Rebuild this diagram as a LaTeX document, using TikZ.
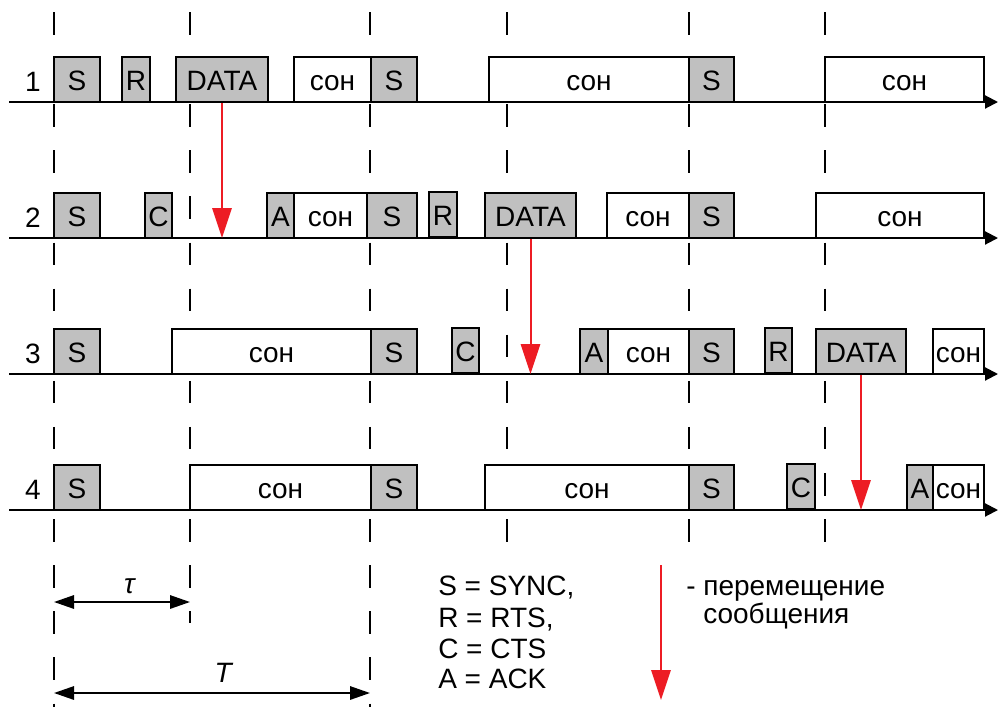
\documentclass[tikz,border=0pt]{standalone}
\usepackage{fontspec}
\setmainfont{Liberation Sans}
\usetikzlibrary{arrows.meta}
\definecolor{boxgray}{HTML}{C0C0C0}
\definecolor{msgred}{HTML}{ED1C24}
\newcommand{\blk}[6]{\node[#1, minimum width={(#4-#3)*0.75pt}] (#2) at ({(#3+#4)/2},{#5}) {#6};}
\begin{document}
\begin{tikzpicture}[x=0.75pt,y=-0.75pt,
  font=\fontsize{21}{25}\selectfont,
  basebox/.style={draw=black, line width=1.5pt, inner sep=0pt, minimum height=33.75pt,
    text height=16.5pt, text depth=0pt, anchor=center},
  gbox/.style={basebox, fill=boxgray},
  wbox/.style={basebox, fill=white},
  guide/.style={line width=1.5pt, dash pattern=on 16.875pt off 17.7pt},
  axisline/.style={line width=1.5pt, -{Triangle[length=9.75pt,width=9.75pt]}},
  msg/.style={draw=msgred, line width=1.5pt, -{Triangle[length=22.5pt,width=14.5pt]}},
  dim/.style={line width=1.5pt, {Triangle[length=15pt,width=10pt]}-{Triangle[length=15pt,width=10pt]}},
  lbl/.style={inner sep=0pt, anchor=base}
]
\useasboundingbox (0,0) rectangle (998,707);
% guides
\foreach \gx/\gy [count=\i] in {54/707,190/623,370/707,507/542,689/542,825/542}{
  \coordinate (gt\i) at (\gx,12);
  \coordinate (gb\i) at (\gx,\gy);
  \draw[guide] (gt\i) -- (gb\i);
}
% axes
\foreach \ay [count=\i] in {102,238,374,510}{
  \coordinate (ax\i) at (9,\ay);
  \coordinate (ae\i) at (998,\ay);
  \draw[axisline] (ax\i) -- (ae\i);
}
% row labels
\node[lbl] (n1) at (33,91) {1};
\node[lbl] (n2) at (33,227) {2};
\node[lbl] (n3) at (33,363) {3};
\node[lbl] (n4) at (33,499) {4};
% row 1
\blk{gbox}{r1a}{54}{100}{79.5}{S}
\blk{gbox}{r1b}{122}{150}{79.5}{R}
\blk{gbox}{d1}{176}{268}{79.5}{DATA}
\blk{wbox}{r1c}{294}{371}{79.5}{сон}
\blk{gbox}{r1d}{371}{417}{79.5}{S}
\blk{wbox}{r1e}{489}{689}{79.5}{сон}
\blk{gbox}{r1f}{689}{734}{79.5}{S}
\blk{wbox}{r1g}{825}{984}{79.5}{сон}
% row 2
\blk{gbox}{r2a}{54}{100}{215.5}{S}
\blk{gbox}{r2b}{145}{172}{215.5}{C}
\blk{gbox}{r2c}{267}{294}{215.5}{A}
\blk{wbox}{r2d}{294}{367}{215.5}{сон}
\blk{gbox}{r2e}{367}{417}{215.5}{S}
\blk{gbox}{r2f}{429}{457}{214.5}{R}
\blk{gbox}{d2}{485}{576}{215.5}{DATA}
\blk{wbox}{r2g}{607}{689}{215.5}{сон}
\blk{gbox}{r2h}{689}{734}{215.5}{S}
\blk{wbox}{r2i}{816}{984}{215.5}{сон}
% row 3
\blk{gbox}{r3a}{54}{100}{351.5}{S}
\blk{wbox}{r3b}{172}{371}{351.5}{сон}
\blk{gbox}{r3c}{371}{417}{351.5}{S}
\blk{gbox}{r3d}{452}{479}{350.5}{C}
\blk{gbox}{r3e}{580}{608}{351.5}{A}
\blk{wbox}{r3f}{608}{689}{351.5}{сон}
\blk{gbox}{r3g}{689}{734}{351.5}{S}
\blk{gbox}{r3h}{765}{792}{350.5}{R}
\blk{gbox}{d3}{816}{906}{351.5}{DATA}
\blk{wbox}{r3i}{933}{984}{351.5}{сон}
% row 4
\blk{gbox}{r4a}{54}{100}{487.5}{S}
\blk{wbox}{r4b}{190}{371}{487.5}{сон}
\blk{gbox}{r4c}{371}{417}{487.5}{S}
\blk{wbox}{r4d}{485}{689}{487.5}{сон}
\blk{gbox}{r4e}{689}{734}{487.5}{S}
\blk{gbox}{r4f}{787}{815}{486.5}{C}
\blk{gbox}{r4g}{907}{933}{487.5}{A}
\blk{wbox}{r4h}{933}{984}{487.5}{сон}
% message arrows
\draw[msg] (d1.south) -- (d1.south |- ax2);
\draw[msg] (d2.south) -- (d2.south |- ax3);
\draw[msg] (d3.south) -- (d3.south |- ax4);
% dimensions
\coordinate (tauL) at (54,602);
\coordinate (tauR) at (190,602);
\draw[dim] (tauL) -- (tauR);
\node (tau) at (130,586) {\textit{τ}};
\coordinate (TL) at (54,693);
\coordinate (TR) at (370,693);
\draw[dim] (TL) -- (TR);
\node (Tlab) at (224,673) {\textit{T}};
% legend
\node[lbl, anchor=base west] (lg1) at (438,595) {S = SYNC,};
\node[lbl, anchor=base west] (lg2) at (438,627) {R = RTS,};
\node[lbl, anchor=base west] (lg3) at (438,658) {C = CTS};
\node[lbl, anchor=base west] (lg4) at (438,688) {A = ACK};
\coordinate (lgt) at (661,565);
\coordinate (lgb) at (661,700);
\draw[msg] (lgt) -- (lgb);
\node[lbl, anchor=base west] (lm1) at (686,595) {- перемещение};
\node[lbl, anchor=base west] (lm2) at (703,623) {сообщения};
\end{tikzpicture}
\end{document}
